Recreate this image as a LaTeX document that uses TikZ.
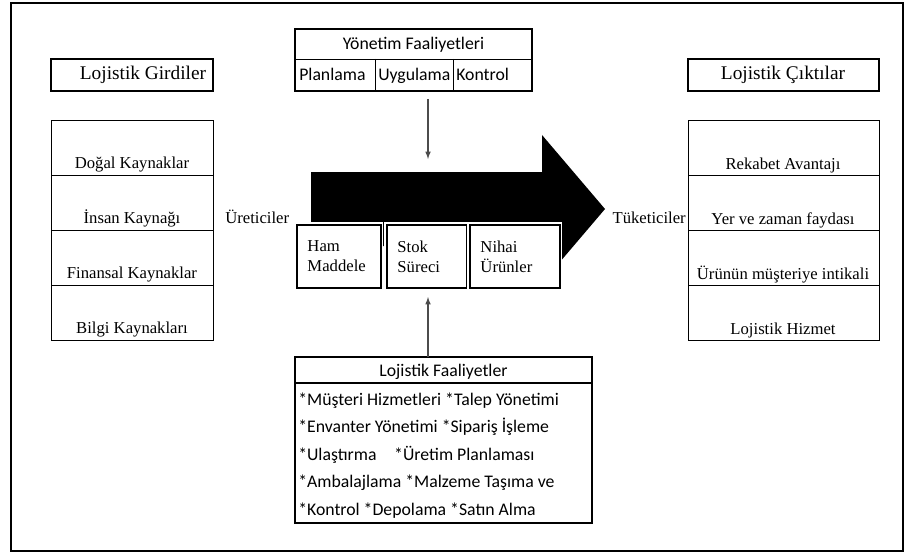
\documentclass[tikz,border=0pt]{standalone}
\usepackage{fontspec}
\setmainfont{Liberation Serif}
\newfontfamily\calfont{Carlito}
\usetikzlibrary{arrows,positioning}

\begin{document}
\begin{tikzpicture}[x=0.75pt,y=-0.75pt,
    headbox/.style={draw, line width=1.5pt},
    cellbox/.style={draw, line width=0.6pt},
    sertext/.style={font=\fontsize{12.5}{15}\selectfont, inner sep=0pt, anchor=base},
    headtext/.style={font=\fontsize{14.5}{17}\selectfont, inner sep=0pt, anchor=base},
    caltext/.style={font=\calfont\fontsize{13.3}{16}\selectfont, inner sep=0pt, anchor=base},
    procbox/.style={draw, fill=white, line width=1.2pt,
        preaction={draw=white, line width=3.5pt},
        anchor=north west, inner xsep=8pt, inner ysep=0pt,
        minimum height=47.25pt, align=left,
        font=\fontsize{12.5}{15}\selectfont},
    conn/.style={-latex, draw=black!70, line width=0.9pt}]
    \useasboundingbox (0,0) rectangle (905,556);
    % cerceve
    \draw[line width=2.2pt] (11,3) rectangle (903,551);

    % girdiler
    \draw[headbox] (51,59) rectangle (213,91);
    \node[headtext] (girdiler) at (143,80) {Lojistik Girdiler};
    \foreach \t [count=\i] in {Doğal Kaynaklar, İnsan Kaynağı, Finansal Kaynaklar, Bilgi Kaynakları} {
        \draw[cellbox] (51,{120+55*(\i-1)}) rectangle (213,{120+55*\i});
        \node[sertext] (in-\i) at (132,{168+55*(\i-1)}) {\t};
    }
    \node[sertext, anchor=base west] (uretici) at (225,223) {Üreticiler};

    % ciktilar
    \draw[headbox] (688,59) rectangle (879,91);
    \node[headtext] (ciktilar) at (783,80) {Lojistik Çıktılar};
    \foreach \t [count=\i] in {Rekabet Avantajı, Yer ve zaman faydası, Ürünün müşteriye intikali, Lojistik Hizmet} {
        \draw[cellbox] (688,{120+55*(\i-1)}) rectangle (879,{120+55*\i});
        \node[sertext] (out-\i) at (783,{169+55*(\i-1)}) {\t};
    }
    \node[sertext, anchor=base east] (tuketici) at (686,223) {Tüketiciler};

    % akis oku
    \fill (311,172) -- (542,172) -- (542,135) -- (605,209) -- (542,283)
        -- (542,246) -- (311,246) -- cycle;
    \node[procbox, text width=47pt] (ham) at (296,224) {Ham\\Maddele};
    \node[procbox, text width=44pt] (stok) at (386,224) {Stok\\Süreci};
    \node[procbox, text width=51.5pt] (nihai) at (469,224) {Nihai\\Ürünler};

    % yonetim faaliyetleri
    \draw[line width=0.6pt] (295,59) -- (532,59) (375,59) -- (375,91) (453,59) -- (453,91);
    \draw[line width=1.4pt] (295,29) rectangle (532,91);
    \node[caltext] (yonetim) at (413.5,50) {Yönetim Faaliyetleri};
    \node[caltext, anchor=base west] (plan) at (299,81) {Planlama};
    \node[caltext, anchor=base west] (uygula) at (378,81) {Uygulama};
    \node[caltext, anchor=base west] (kontrol) at (456,81) {Kontrol};

    % lojistik faaliyetler
    \draw[line width=1.4pt] (295,357) rectangle (592,523);
    \draw[line width=1pt] (295,383) -- (592,383);
    \node[caltext] (faaliyet) at (443.5,376) {Lojistik Faaliyetler};
    \foreach \t [count=\i] in {*Müşteri Hizmetleri *Talep Yönetimi,
        *Envanter Yönetimi *Sipariş İşleme,
        *Ulaştırma\quad *Üretim Planlaması,
        *Ambalajlama *Malzeme Taşıma ve,
        *Kontrol *Depolama *Satın Alma} {
        \node[caltext, anchor=base west] (fa-\i) at (298,{405+27.6*(\i-1)}) {\t};
    }

    % oklar
    \coordinate (yon-out) at (428,99);
    \coordinate (akis-in) at (428,159);
    \coordinate (fa-out) at (428,357);
    \coordinate (stok-in) at (428,297);
    \draw[conn] (yon-out) -- (akis-in);
    \draw[conn] (fa-out) -- (stok-in);
\end{tikzpicture}
\end{document}
